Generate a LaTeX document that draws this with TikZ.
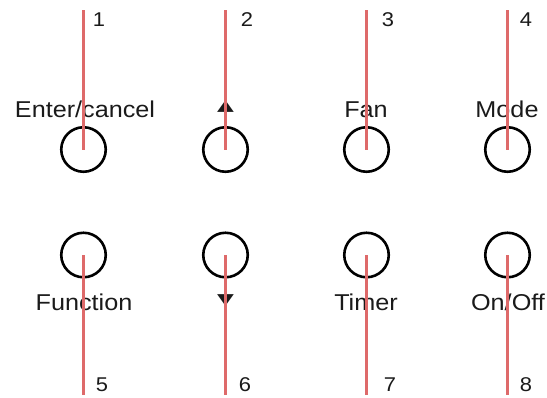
\documentclass[tikz,border=0pt]{standalone}
\usepackage{fontspec}
\setmainfont[FakeStretch=1.1]{Liberation Sans}
\newfontfamily\symfont{DejaVu Sans}
\usepackage{tikz}
\definecolor{d8575a}{HTML}{DE6A6A}
\definecolor{ink}{HTML}{1A1A1A}
\tikzset{
  button/.style={draw=black, line width=2.6bp, circle, minimum size=44.5bp, inner sep=0pt},
  wire/.style={draw=d8575a, line width=2.2bp},
  lbl/.style={font=\fontsize{23}{23}\selectfont, text=ink, inner sep=0pt, anchor=base},
  pin/.style={font=\fontsize{20}{20}\selectfont, text=ink, inner sep=0pt},
  arr/.style={font=\symfont\fontsize{22}{22}\selectfont, text=ink, inner sep=0pt}
}

\begin{document}
\begin{tikzpicture}[x=1bp, y=-1bp]
            \useasboundingbox (0, 0) rectangle (547, 397);

            \node[button] (b1) at (83.5, 149.5) {};
            \node[button] (b2) at (225.5, 149.5) {};
            \node[button] (b3) at (366.5, 149.5) {};
            \node[button] (b4) at (507.5, 149.5) {};

            \node[button] (b5) at (83.5, 255) {};
            \node[button] (b6) at (225.5, 255) {};
            \node[button] (b7) at (366.5, 255) {};
            \node[button] (b8) at (507.5, 255) {};

            \node[lbl] (enter) at (85, 117) {Enter/cancel};
            \node[arr] (up) at (225.5, 107) {\scalebox{1}[0.7]{▲}};
            \node[lbl] (fan) at (366, 117) {Fan};
            \node[lbl] (mode) at (507, 117) {Mode};

            \node[lbl] (function) at (84, 310) {Function};
            \node[arr] (down) at (225.5, 301) {\scalebox{1}[0.7]{▼}};
            \node[lbl] (timer) at (366, 310) {Timer};
            \node[lbl] (onoff) at (508, 310) {On/Off};

            \node[pin] (p1) at (99, 20) {1};
            \node[pin] (p2) at (247, 20) {2};
            \node[pin] (p3) at (388, 20) {3};
            \node[pin] (p4) at (526, 20) {4};

            \node[pin] (p5) at (102, 385) {5};
            \node[pin] (p6) at (245, 385) {6};
            \node[pin] (p7) at (390, 385) {7};
            \node[pin] (p8) at (526, 385) {8};

            \coordinate (t1) at (83.5, 10);
            \coordinate (t2) at (225.5, 10);
            \coordinate (t3) at (366.5, 10);
            \coordinate (t4) at (507.5, 10);
            \coordinate (e5) at (83.5, 395);
            \coordinate (e6) at (225.5, 395);
            \coordinate (e7) at (366.5, 395);
            \coordinate (e8) at (507.5, 395);

            \draw[wire] (t1) -- (b1.center);
            \draw[wire] (t2) -- (b2.center);
            \draw[wire] (t3) -- (b3.center);
            \draw[wire] (t4) -- (b4.center);

            \draw[wire] (b5.center) -- (e5);
            \draw[wire] (b6.center) -- (e6);
            \draw[wire] (b7.center) -- (e7);
            \draw[wire] (b8.center) -- (e8);
        \end{tikzpicture}
\end{document}
